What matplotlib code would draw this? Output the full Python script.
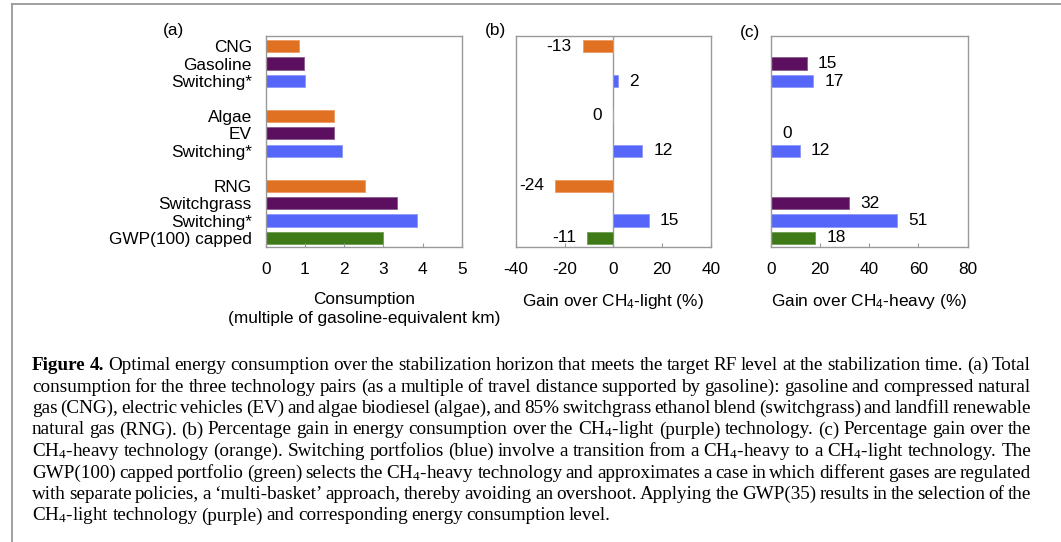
import matplotlib
matplotlib.use("Agg")
import matplotlib.pyplot as plt
from matplotlib.lines import Line2D

plt.rcParams['font.family'] = ['Liberation Sans', 'DejaVu Sans']
plt.rcParams['mathtext.default'] = 'regular'
plt.rcParams['axes.unicode_minus'] = False
FS = 12.4
plt.rcParams['font.size'] = FS

# ---------------- data ----------------
categories = ["CNG", "Gasoline", "Switching*",
              "Algae", "EV", "Switching*",
              "RNG", "Switchgrass", "Switching*", "GWP(100) capped"]
group = [0, 0, 0, 1, 1, 1, 2, 2, 2, 2]
kind = ["heavy", "light", "switch", "heavy", "light", "switch",
        "heavy", "light", "switch", "capped"]
consumption = [0.85, 0.98, 1.00, 1.73, 1.73, 1.94, 2.53, 3.34, 3.85, 2.98]
gain_light = [-12.6, None, 1.8, -0.2, None, 11.9, -23.9, None, 14.6, -10.6]
gain_heavy = [None, 14.6, 17.2, None, 0.3, 11.9, None, 31.8, 51.4, 18.0]
xticks_a = [0, 1, 2, 3, 4, 5]
xticks_b = [-40, -20, 0, 20, 40]
xticks_c = [0, 20, 40, 60, 80]

palette = {"heavy": "#E07022", "light": "#5B0F5E", "switch": "#5566F8", "capped": "#3E7A17"}
edge = {"heavy": "#EE9A60", "light": "#8A5A8C", "switch": "#8E9AFA", "capped": "#6E9C55"}

caption_lines = [
    "Figure 4. Optimal energy consumption over the stabilization horizon that meets the target RF level at the stabilization time. (a) Total",
    "consumption for the three technology pairs (as a multiple of travel distance supported by gasoline): gasoline and compressed natural",
    "gas (CNG), electric vehicles (EV) and algae biodiesel (algae), and 85% switchgrass ethanol blend (switchgrass) and landfill renewable",
    "natural gas (RNG). (b) Percentage gain in energy consumption over the CH$_4$-light (purple) technology. (c) Percentage gain over the",
    "CH$_4$-heavy technology (orange). Switching portfolios (blue) involve a transition from a CH$_4$-heavy to a CH$_4$-light technology. The",
    "GWP(100) capped portfolio (green) selects the CH$_4$-heavy technology and approximates a case in which different gases are regulated",
    "with separate policies, a \u2018multi-basket\u2019 approach, thereby avoiding an overshoot. Applying the GWP(35) results in the selection of the",
    "CH$_4$-light technology (purple) and corresponding energy consumption level.",
]

# ---------------- figure ----------------
W, H = 1061, 542
fig = plt.figure(figsize=(W / 100, H / 100), dpi=100)


def ax_rect(l, t, r, b):
    return [l / W, 1 - b / H, (r - l) / W, (b - t) / H]


axA = fig.add_axes(ax_rect(265.7, 35.7, 461.7, 246.7))
axB = fig.add_axes(ax_rect(515.7, 35.7, 711.0, 246.7))
axC = fig.add_axes(ax_rect(770.7, 35.7, 967.7, 246.7))

pos = [i + g for i, g in enumerate(group)]
cols = [palette[k] for k in kind]
ecols = [edge[k] for k in kind]
GRAY = "#999999"

for ax in (axA, axB, axC):
    for s in ax.spines.values():
        s.set_color(GRAY)
        s.set_linewidth(1.0)
    ax.set_ylim(11.5, -0.6)
    ax.tick_params(axis='x', direction='in', length=3, color=GRAY, pad=11, labelsize=FS)
    ax.tick_params(axis='y', length=0, pad=10, labelsize=FS)

# (a)
axA.barh(pos, consumption, height=0.7, color=cols, edgecolor=ecols, linewidth=0.6)
axA.set_xlim(0, 5)
axA.set_xticks(xticks_a)
axA.set_yticks(pos)
axA.set_yticklabels(categories)
axA.set_xlabel("Consumption\n(multiple of gasoline-equivalent km)", labelpad=11, linespacing=1.34)


def gain_panel(ax, vals, xlim, ticks, label):
    idx = [i for i, v in enumerate(vals) if v is not None]
    ax.barh([pos[i] for i in idx], [vals[i] for i in idx], height=0.7,
            color=[cols[i] for i in idx], edgecolor=[ecols[i] for i in idx], linewidth=0.6)
    for i in idx:
        v = vals[i]
        neg = v < 0
        ax.annotate(f"{round(v):d}", xy=(v, pos[i]), xytext=(-8 if neg else 8, 0),
                    textcoords='offset points', ha='right' if neg else 'left',
                    va='center', fontsize=FS)
    ax.set_xlim(*xlim)
    ax.set_xticks(ticks)
    ax.set_yticks([])
    ax.set_xlabel(label, labelpad=11)


gain_panel(axB, gain_light, (-40, 40), xticks_b, "Gain over CH$_4$-light (%)")
axB.axvline(0, color=GRAY, lw=1.0, zorder=0)
gain_panel(axC, gain_heavy, (0, 80), xticks_c, "Gain over CH$_4$-heavy (%)")

for x, y, s in [(173, 31, "(a)"), (495, 31, "(b)"), (750, 32, "(c)")]:
    fig.text(x / W, 1 - y / H, s, ha='center', va='center', fontsize=FS)

# frame
fig.add_artist(Line2D([11.5 / W, 11.5 / W], [0, 1 - 4.3 / H], transform=fig.transFigure,
                      color=GRAY, lw=1.3))
fig.add_artist(Line2D([11.5 / W, 1], [1 - 4.3 / H, 1 - 4.3 / H], transform=fig.transFigure,
                      color=GRAY, lw=1.3))

# ---------------- caption (justified) ----------------
SERIF = ['Liberation Serif', 'DejaVu Serif']
renderer = fig.canvas.get_renderer()


def measure(s, size, weight='normal'):
    t = fig.text(0, 0, s, fontsize=size, family=SERIF, weight=weight)
    w = t.get_window_extent(renderer).width
    t.remove()
    return w


def words_of(li, line):
    ws = line.split(" ")
    out = []
    for j, w in enumerate(ws):
        out.append((w, 'bold' if (li == 0 and j < 2) else 'normal'))
    return out


x0, x1 = 32.0, 1031.0
target = x1 - x0
base = 12.0
sp = measure("x x", base) - measure("xx", base)
natural = []
for li, line in enumerate(caption_lines[:-1]):
    ws = words_of(li, line)
    natural.append(sum(measure(w, base, wt) for w, wt in ws) + sp * 0.6 * (len(ws) - 1))
size = base * target / max(natural) * 0.998

sp = measure("x x", size) - measure("xx", size)
for li, line in enumerate(caption_lines):
    ws = words_of(li, line)
    widths = [measure(w, size, wt) for w, wt in ws]
    if li < len(caption_lines) - 1 and len(ws) > 1:
        gap = (target - sum(widths)) / (len(ws) - 1)
    else:
        gap = sp * 0.75
    yb = 370 + 21.5 * li
    x = x0
    for (w, wt), wd in zip(ws, widths):
        fig.text(x / W, 1 - yb / H, w, fontsize=size, family=SERIF, weight=wt,
                 ha='left', va='baseline')
        x += wd + gap

fig.savefig("out.png", dpi=100)
